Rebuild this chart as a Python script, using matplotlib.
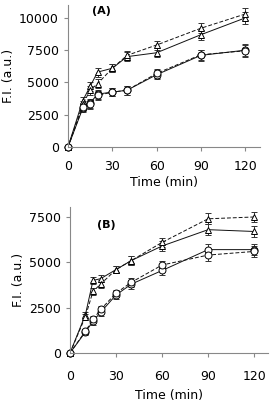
import matplotlib.pyplot as plt
import numpy as np

# Sample times (min)
time = [0, 10, 15, 20, 30, 40, 60, 90, 120]

# Panel A
a_tri_solid = [0, 3600, 4700, 5800, 6100, 7000, 7300, 8700, 10000]
a_tri_dash = [0, 3300, 4400, 4900, 6100, 7100, 7900, 9200, 10300]
a_circ_solid = [0, 3000, 3400, 4100, 4250, 4400, 5600, 7100, 7500]
a_circ_dash = [0, 3100, 3300, 4000, 4250, 4400, 5700, 7150, 7450]
a_err = [0, 300, 350, 350, 300, 350, 350, 400, 450]

# Panel B
b_tri_solid = [0, 2100, 4000, 4100, 4600, 5100, 5900, 6800, 6700]
b_tri_dash = [0, 2000, 3400, 3800, 4600, 5100, 6100, 7400, 7500]
b_circ_solid = [0, 1150, 1750, 2250, 3200, 3800, 4550, 5700, 5700]
b_circ_dash = [0, 1200, 1850, 2400, 3300, 3900, 4850, 5400, 5600]
b_err = [0, 150, 200, 200, 200, 250, 250, 300, 300]

plt.rcParams['font.family'] = 'DejaVu Sans'
fig = plt.figure(figsize=(2.73, 4.09), dpi=100)
ax1 = fig.add_axes([68 / 273, 1 - 147 / 409, 192 / 273, 142 / 409])
ax2 = fig.add_axes([70 / 273, 1 - 353 / 409, 198 / 273, 146 / 409])


def draw(ax, series, err, xpad, xlabelpad):
    for y, marker, ls in series:
        ax.errorbar(time, y, yerr=err, color='#111111', lw=0.7, ls=ls,
                    marker=marker, ms=5, mfc='white', mec='black', mew=0.7,
                    ecolor='#333333', elinewidth=0.7, capsize=2, capthick=0.7,
                    dashes=(4, 2) if ls == '--' else (None, None), clip_on=False)
    for side in ['top', 'right']:
        ax.spines[side].set_visible(False)
    for side in ['left', 'bottom']:
        ax.spines[side].set_color('#888888')
    ax.set_xticks([0, 30, 60, 90, 120])
    ax.tick_params(labelsize=9, length=3, color='#888888')
    ax.tick_params(axis='x', pad=xpad)
    ax.tick_params(axis='y', pad=3.5)
    ax.set_xlabel('Time (min)', fontsize=9, labelpad=xlabelpad)
    ax.set_ylabel('F.I. (a.u.)', fontsize=9, labelpad=3)


draw(ax1, [(a_tri_solid, '^', '-'), (a_tri_dash, '^', '--'),
           (a_circ_solid, 'o', '-'), (a_circ_dash, 'o', '--')], a_err, 6.5, 2)
ax1.set_xlim(0, 130)
ax1.set_ylim(0, 11000)
ax1.set_yticks([0, 2500, 5000, 7500, 10000])
ax1.text(16, 10950, '(A)', fontsize=8, fontweight='bold', va='top', ha='left')

draw(ax2, [(b_tri_solid, '^', '-'), (b_tri_dash, '^', '--'),
           (b_circ_solid, 'o', '-'), (b_circ_dash, 'o', '--')], b_err, 9.5, 4)
ax2.set_xlim(0, 129)
ax2.set_ylim(0, 8050)
ax2.set_yticks([0, 2500, 5000, 7500])
ax2.text(17.5, 7350, '(B)', fontsize=8, fontweight='bold', va='top', ha='left')

fig.savefig('out.png', dpi=100)
